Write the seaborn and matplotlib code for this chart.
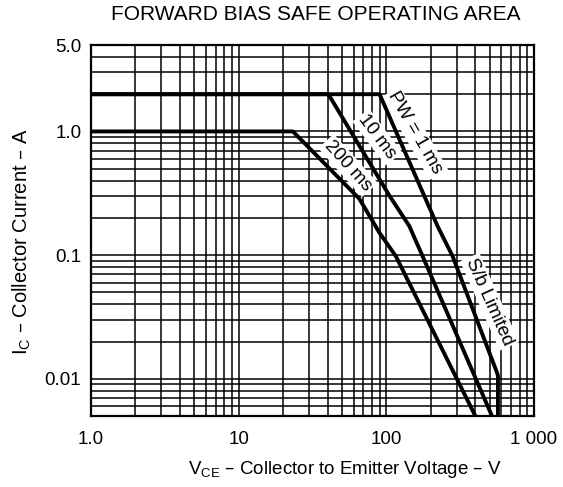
# ---- import packages ---- #
import pandas as pd
import numpy as np
import matplotlib
matplotlib.use("Agg")
import matplotlib.pyplot as plt
from matplotlib.ticker import LogLocator, NullFormatter
import seaborn as sns


# ---- data ---- #
# pulse width curves, Vce in V and Ic in A
vce_1ms = [1, 90, 222, 281, 565, 570, 570]
ic_1ms = [2.0, 2.0, 0.172, 0.098, 0.011, 0.0105, 0.004]

vce_10ms = [1, 40.5, 105, 143, 176, 523, 560]
ic_10ms = [2.0, 2.0, 0.302, 0.172, 0.098, 0.0049, 0.004]

vce_200ms = [1, 23.3, 65.7, 89.7, 116, 404, 440]
ic_200ms = [1.0, 1.0, 0.285, 0.152, 0.098, 0.0049, 0.004]

xtick_vals = [1, 10, 100, 1000]
xtick_labels = ["1.0", "10", "100", "1 000"]
ytick_vals = [0.01, 0.1, 1, 5]
ytick_labels = ["0.01", "0.1", "1.0", "5.0"]

curve_names = ["PW = 1 ms", "10 ms", "200 ms"]


# ---- long format df for seaborn ---- #
soa = pd.concat([
    pd.DataFrame({"vce": vce_1ms, "ic": ic_1ms, "pw": curve_names[0]}),
    pd.DataFrame({"vce": vce_10ms, "ic": ic_10ms, "pw": curve_names[1]}),
    pd.DataFrame({"vce": vce_200ms, "ic": ic_200ms, "pw": curve_names[2]}),
], ignore_index=True)


# ---- figure ---- #
sns.set_style("white")
plt.rcParams["font.family"] = ["Liberation Sans", "DejaVu Sans"]
plt.rcParams["text.color"] = "black"
plt.rcParams["xtick.color"] = "black"
plt.rcParams["ytick.color"] = "black"

fig = plt.figure(figsize=(5.63, 4.87), dpi=100)
ax = fig.add_axes([91 / 563, 1 - 416 / 487, (534 - 91) / 563, (416 - 45) / 487])

sns.lineplot(data=soa, x="vce", y="ic", hue="pw", units="pw", estimator=None,
             sort=False, palette=["black"] * 3, linewidth=2.8, legend=False,
             ax=ax, zorder=5)

ax.set_xscale("log")
ax.set_yscale("log")
ax.set_xlim(1, 1000)
ax.set_ylim(0.005, 5.0)

# grid at every 1..9 step
ax.xaxis.set_minor_locator(LogLocator(base=10, subs=np.arange(2, 10)))
ax.yaxis.set_minor_locator(LogLocator(base=10, subs=np.arange(2, 10)))
ax.xaxis.set_minor_formatter(NullFormatter())
ax.yaxis.set_minor_formatter(NullFormatter())
ax.grid(which="both", color="black", linewidth=1.1)
ax.set_axisbelow(True)

ax.set_xticks(xtick_vals, labels=xtick_labels)
ax.set_yticks(ytick_vals, labels=ytick_labels)
ax.tick_params(which="both", length=0, labelsize=13.5, labelcolor="black")
ax.tick_params(axis="x", pad=11)
ax.tick_params(axis="y", pad=7)

for s in ax.spines.values():
    s.set_color("black")
    s.set_linewidth(1.6)

ax.set_xlabel("")
ax.set_ylabel("")

# ---- curve labels ---- #
box = dict(facecolor="white", edgecolor="none", pad=1.5)
ax.text(156, 0.97, "PW = 1 ms", rotation=-60, ha="center", va="center",
        fontsize=13.5, bbox=box, zorder=4)
ax.text(87, 0.90, "10 ms", rotation=-53, ha="center", va="center",
        fontsize=13.5, bbox=box, zorder=4)
ax.text(55, 0.53, "200 ms", rotation=-48, ha="center", va="center",
        fontsize=13.5, bbox=box, zorder=4)
ax.text(500, 0.042, "S/b Limited", rotation=-66, ha="center", va="center",
        fontsize=13.5, bbox=box, zorder=4)

# ---- titles ---- #
fig.text(316 / 563, 1 - 15 / 487, "FORWARD BIAS SAFE OPERATING AREA",
         ha="center", va="center", fontsize=15)
fig.text(345 / 563, 1 - 470 / 487,
         r"V$_{\mathregular{CE}}$ – Collector to Emitter Voltage – V",
         ha="center", va="center", fontsize=13.5)
fig.text(22 / 563, 1 - 242 / 487,
         r"I$_{\mathregular{C}}$ – Collector Current – A",
         ha="center", va="center", rotation=90, fontsize=14.5)

fig.savefig("out.png", dpi=100, facecolor="white")
